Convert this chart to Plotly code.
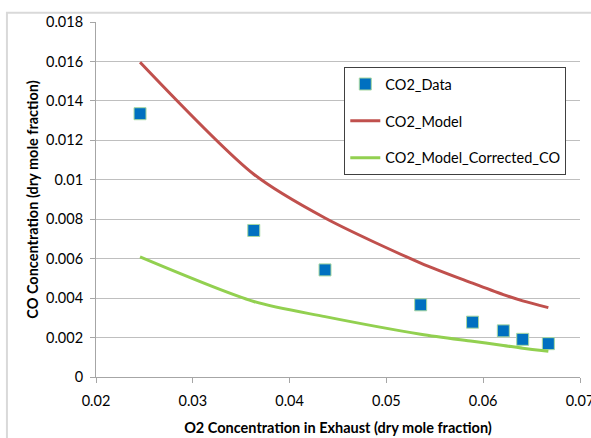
import plotly.graph_objects as go

# Data
o2_data = [0.02455, 0.0363, 0.04366, 0.05354, 0.0589, 0.06208, 0.06408, 0.06673]
co_data = [0.01335, 0.00743, 0.00543, 0.00366, 0.00278, 0.00234, 0.00191, 0.00169]

o2_model = [0.02455, 0.0363, 0.04366, 0.05354, 0.0589, 0.06208, 0.06408, 0.06673]
co_model = [0.01596, 0.01028, 0.00806, 0.00578, 0.00476, 0.00418, 0.00386, 0.00352]
co_model_corrected = [0.00609, 0.00383, 0.00306, 0.00217, 0.00181, 0.00160, 0.00146, 0.00131]

x_ticks = [0.02, 0.03, 0.04, 0.05, 0.06, 0.07]
x_tick_text = ["0.02", "0.03", "0.04", "0.05", "0.06", "0.07"]
y_ticks = [0, 0.002, 0.004, 0.006, 0.008, 0.01, 0.012, 0.014, 0.016, 0.018]
y_tick_text = ["0", "0.002", "0.004", "0.006", "0.008", "0.01", "0.012", "0.014", "0.016", "0.018"]

FONT = "Lato"
FS = 14.5

fig = go.Figure()
fig.add_trace(go.Scatter(
    x=o2_data, y=co_data, mode="markers", name="CO2_Data", legendgroup="a",
    marker=dict(symbol="square", size=12, color="#0070C0",
                line=dict(color="#A8D8A0", width=1)),
))
fig.add_trace(go.Scatter(
    x=o2_model, y=co_model, mode="lines", name="CO2_Model", legendgroup="b",
    line=dict(color="#C0504D", width=3, shape="spline", smoothing=0.8),
))
fig.add_trace(go.Scatter(
    x=o2_model, y=co_model_corrected, mode="lines", name="CO2_Model_Corrected_CO",
    legendgroup="c",
    line=dict(color="#92D050", width=3, shape="spline", smoothing=0.8),
))

fig.update_layout(
    width=591, height=438,
    margin=dict(l=96, r=11, t=22, b=61),
    paper_bgcolor="white", plot_bgcolor="white",
    font=dict(family=FONT, size=FS, color="#000000"),
    showlegend=True,
    legend=dict(
        x=0.513, y=0.873, xanchor="left", yanchor="top",
        bordercolor="#404040", borderwidth=1, bgcolor="white",
        font=dict(family=FONT, size=FS),
        tracegroupgap=15, traceorder="grouped",
        itemwidth=30,
    ),
    xaxis=dict(
        range=[0.02, 0.07], tickvals=x_ticks, ticktext=x_tick_text,
        automargin=False,
        showgrid=False, showline=True, linecolor="#A6A6A6", linewidth=1,
        ticks="outside", ticklen=5, tickcolor="#A6A6A6",
        ticklabelstandoff=6, ticklabeloverflow="allow",
        zeroline=False,
        title=dict(text="<b>O2 Concentration in Exhaust (dry mole fraction)</b>",
                   font=dict(family=FONT, size=FS), standoff=14),
    ),
    yaxis=dict(
        range=[0, 0.018], tickvals=y_ticks, ticktext=y_tick_text,
        automargin=False,
        showgrid=True, gridcolor="#BFBFBF", gridwidth=1,
        showline=True, linecolor="#A6A6A6", linewidth=1,
        ticks="outside", ticklen=5, tickcolor="#A6A6A6",
        ticklabelstandoff=4,
        zeroline=False,
        title=dict(text="<b>CO Concentration (dry mole fraction)</b>",
                   font=dict(family=FONT, size=FS), standoff=3),
    ),
    shapes=[dict(
        type="rect", xref="paper", yref="paper",
        x0=-0.184, x1=1.1, y0=-0.3, y1=1.026,
        line=dict(color="#D9D9D9", width=2), fillcolor="rgba(0,0,0,0)",
        layer="below",
    )],
)

fig.write_html(
    "out.html",
    config={"displayModeBar": False},
    post_script="document.body.style.margin='0px';document.body.style.overflow='hidden';",
)
